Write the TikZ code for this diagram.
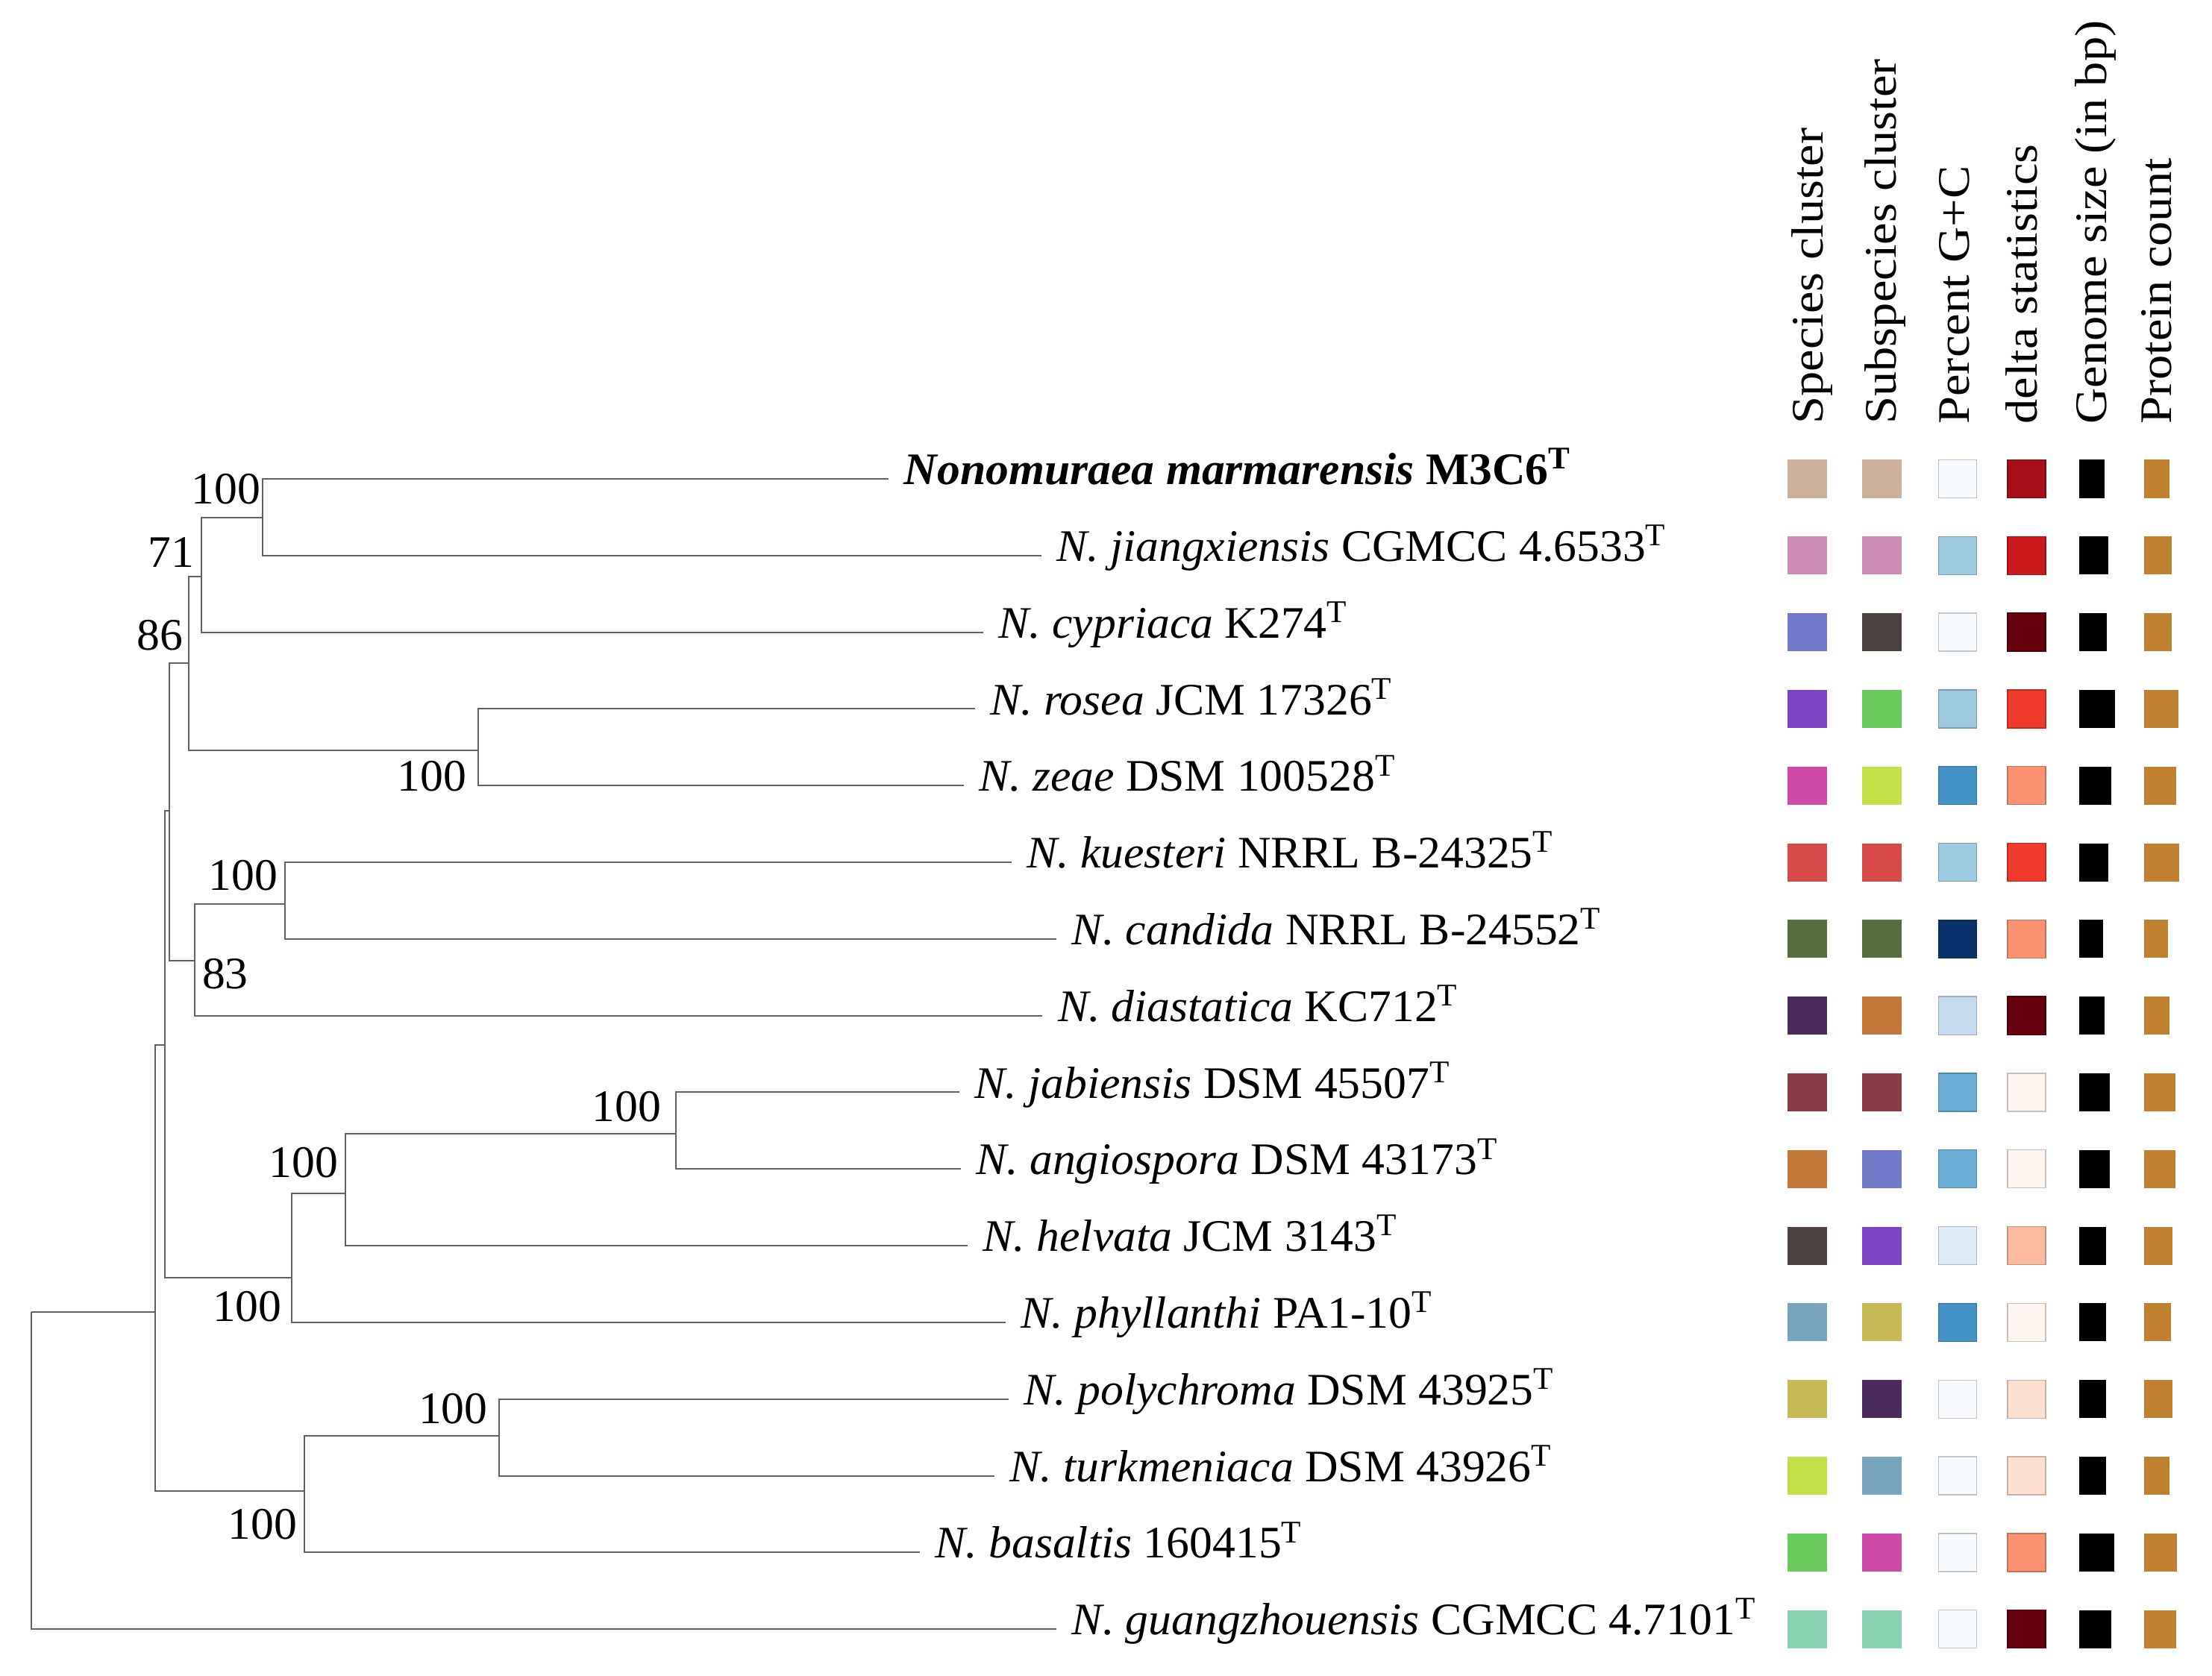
\documentclass[tikz,border=0pt]{standalone}
\usepackage{fontspec}
\setmainfont{Liberation Serif}[FakeStretch = 1.02]
\newfontfamily{\headfamily}{Liberation Serif}[FakeStretch = 1.1]
\usetikzlibrary{positioning}

\newcommand{\treefont}{\fontsize{18.2}{22}\selectfont}
\newcommand{\headfont}{\headfamily\fontsize{18.2}{22}\selectfont}

% species and subspecies cluster colours
\definecolor{cTan}{HTML}{CDB09A}
\definecolor{cPink}{HTML}{CE8BB5}
\definecolor{cPeri}{HTML}{7279C8}
\definecolor{cViolet}{HTML}{7C44C4}
\definecolor{cMagenta}{HTML}{CF4AA8}
\definecolor{cRed}{HTML}{D94A4A}
\definecolor{cOlive}{HTML}{566E3D}
\definecolor{cPlum}{HTML}{4B2A60}
\definecolor{cMaroon}{HTML}{8A3C44}
\definecolor{cOchre}{HTML}{C17838}
\definecolor{cTaupe}{HTML}{4D4141}
\definecolor{cSteel}{HTML}{77A5BE}
\definecolor{cKhaki}{HTML}{C8B957}
\definecolor{cLime}{HTML}{C3E048}
\definecolor{cGreen}{HTML}{68CB5C}
\definecolor{cMint}{HTML}{87D2B1}
% G+C scale
\definecolor{bA}{HTML}{F7FBFF}
\definecolor{bB}{HTML}{DEEBF7}
\definecolor{bC}{HTML}{C6DBEF}
\definecolor{bD}{HTML}{9ECAE1}
\definecolor{bE}{HTML}{6BAED6}
\definecolor{bF}{HTML}{4292C6}
\definecolor{bG}{HTML}{08306B}
% delta scale
\definecolor{rA}{HTML}{FFF5F0}
\definecolor{rB}{HTML}{FEE0D2}
\definecolor{rC}{HTML}{FCBBA1}
\definecolor{rD}{HTML}{FC9272}
\definecolor{rE}{HTML}{EF3B2C}
\definecolor{rF}{HTML}{CB181D}
\definecolor{rG}{HTML}{A50F15}
\definecolor{rH}{HTML}{67000D}
\definecolor{protbar}{HTML}{BF8030}

\tikzset{
  branch/.style = {draw = black!62, line width = 0.6pt},
  taxon/.style = {anchor = mid west, inner sep = 0pt, font = \treefont},
  boot/.style = {inner sep = 0pt, font = \treefont},
  colhead/.style = {rotate = 90, anchor = base west, inner sep = 0pt, font = \headfont},
  cell/.style = {line width = 0.4pt}
}

\begin{document}
\begin{tikzpicture}[x = 0.02cm, y = -0.02cm]
    \useasboundingbox (0, 0) rectangle (1568, 1188);

    % inner nodes of the tree
    \coordinate (R) at (22, 930);
    \coordinate (A) at (110, 930);
    \coordinate (B) at (117, 741);
    \coordinate (C) at (216, 1057);
    \coordinate (D) at (120, 575);
    \coordinate (E) at (134, 470);
    \coordinate (F) at (138, 681);
    \coordinate (G) at (143, 409);
    \coordinate (H) at (186, 367);
    \coordinate (I) at (339, 532);
    \coordinate (J) at (202, 641);
    \coordinate (K) at (207, 906);
    \coordinate (L) at (245, 846);
    \coordinate (M) at (479, 804);
    \coordinate (N) at (354, 1018);

    \foreach \p/\c in {R/A, A/B, A/C, B/D, B/K, D/E, D/F, E/G, E/I, G/H, F/J, K/L, L/M, C/N}
        \draw [branch] (\p) |- (\c);

    % leaves
    \foreach \p/\x [count = \i] in {H/630, H/738, G/697, I/691, I/683, J/717, J/749, F/739,
                                    M/680, M/681, L/686, K/713, N/715, N/705, C/652, R/749} {
        \coordinate (leaf\i) at (\x, {339.5 + (\i - 1) * 54.37});
        \draw [branch] (\p) |- (leaf\i);
    }

    \node [taxon] (tax1) at ([xshift = 6] leaf1) {\textbf{\textit{Nonomuraea marmarensis} M3C6\textsuperscript{T}}};
    \node [taxon] (tax2) at ([xshift = 6] leaf2) {\textit{N. jiangxiensis} CGMCC 4.6533\textsuperscript{T}};
    \node [taxon] (tax3) at ([xshift = 6] leaf3) {\textit{N. cypriaca} K274\textsuperscript{T}};
    \node [taxon] (tax4) at ([xshift = 6] leaf4) {\textit{N. rosea} JCM 17326\textsuperscript{T}};
    \node [taxon] (tax5) at ([xshift = 6] leaf5) {\textit{N. zeae} DSM 100528\textsuperscript{T}};
    \node [taxon] (tax6) at ([xshift = 6] leaf6) {\textit{N. kuesteri} NRRL B-24325\textsuperscript{T}};
    \node [taxon] (tax7) at ([xshift = 6] leaf7) {\textit{N. candida} NRRL B-24552\textsuperscript{T}};
    \node [taxon] (tax8) at ([xshift = 6] leaf8) {\textit{N. diastatica} KC712\textsuperscript{T}};
    \node [taxon] (tax9) at ([xshift = 6] leaf9) {\textit{N. jabiensis} DSM 45507\textsuperscript{T}};
    \node [taxon] (tax10) at ([xshift = 6] leaf10) {\textit{N. angiospora} DSM 43173\textsuperscript{T}};
    \node [taxon] (tax11) at ([xshift = 6] leaf11) {\textit{N. helvata} JCM 3143\textsuperscript{T}};
    \node [taxon] (tax12) at ([xshift = 6] leaf12) {\textit{N. phyllanthi} PA1-10\textsuperscript{T}};
    \node [taxon] (tax13) at ([xshift = 6] leaf13) {\textit{N. polychroma} DSM 43925\textsuperscript{T}};
    \node [taxon] (tax14) at ([xshift = 6] leaf14) {\textit{N. turkmeniaca} DSM 43926\textsuperscript{T}};
    \node [taxon] (tax15) at ([xshift = 6] leaf15) {\textit{N. basaltis} 160415\textsuperscript{T}};
    \node [taxon] (tax16) at ([xshift = 6] leaf16) {\textit{N. guangzhouensis} CGMCC 4.7101\textsuperscript{T}};

    % bootstrap values
    \node [boot, anchor = base east] (bsH) at (185, 357) {100};
    \node [boot, anchor = base east] (bsG) at (138, 402) {71};
    \node [boot, anchor = base east] (bsE) at (130, 461) {86};
    \node [boot, anchor = base east] (bsI) at (331, 561) {100};
    \node [boot, anchor = base east] (bsJ) at (197, 631) {100};
    \node [boot, anchor = base west] (bsF) at (143, 701) {83};
    \node [boot, anchor = base east] (bsM) at (469, 795) {100};
    \node [boot, anchor = base east] (bsL) at (240, 835) {100};
    \node [boot, anchor = base east] (bsK) at (200, 937) {100};
    \node [boot, anchor = base east] (bsN) at (346, 1009) {100};
    \node [boot, anchor = base east] (bsC) at (211, 1091) {100};

    % column heads
    \node [colhead] (hd1) at (1292, 301) {Species cluster};
    \node [colhead] (hd2) at (1344, 301) {Subspecies cluster};
    \node [colhead] (hd3) at (1396, 301) {Percent G+C};
    \node [colhead] (hd4) at (1444, 301) {delta statistics};
    \node [colhead] (hd5) at (1493, 301) {Genome size (in bp)};
    \node [colhead] (hd6) at (1539, 301) {Protein count};

    % metadata cells
    \foreach \c [count = \i from 0] in {cTan, cPink, cPeri, cViolet, cMagenta, cRed, cOlive, cPlum,
                                        cMaroon, cOchre, cTaupe, cSteel, cKhaki, cLime, cGreen, cMint}
        \fill [\c] (1267, {326 + \i * 54.37}) rectangle ++(28, 27);
    \foreach \c [count = \i from 0] in {cTan, cPink, cTaupe, cGreen, cLime, cRed, cOlive, cOchre,
                                        cMaroon, cPeri, cViolet, cKhaki, cPlum, cSteel, cMagenta, cMint}
        \fill [\c] (1320, {326 + \i * 54.37}) rectangle ++(28, 27);
    \foreach \c [count = \i from 0] in {bA, bD, bA, bD, bF, bD, bG, bC, bE, bE, bB, bF, bA, bA, bA, bA}
        \filldraw [cell, fill = \c, draw = \c!78!black] (1374, {326 + \i * 54.37}) rectangle ++(27, 27);
    \foreach \c [count = \i from 0] in {rG, rF, rH, rE, rD, rE, rD, rH, rA, rA, rC, rA, rB, rB, rD, rH}
        \filldraw [cell, fill = \c, draw = \c!78!black] (1423, {326 + \i * 54.37}) rectangle ++(27, 27);
    \foreach \w [count = \i from 0] in {17.6, 20.3, 19.3, 25.3, 22.4, 20.3, 17, 17.6,
                                        21.4, 21.4, 19.1, 19.1, 19.1, 19.1, 24.9, 22.8}
        \fill [black] (1474, {326 + \i * 54.37}) rectangle ++(\w, 27);
    \foreach \w [count = \i from 0] in {18, 19.5, 19.5, 24.3, 22.6, 24.9, 16.6, 18,
                                        22.2, 22.2, 19.7, 18.7, 19.7, 18, 23.2, 22.8}
        \fill [protbar] (1520, {326 + \i * 54.37}) rectangle ++(\w, 27);
\end{tikzpicture}
\end{document}
